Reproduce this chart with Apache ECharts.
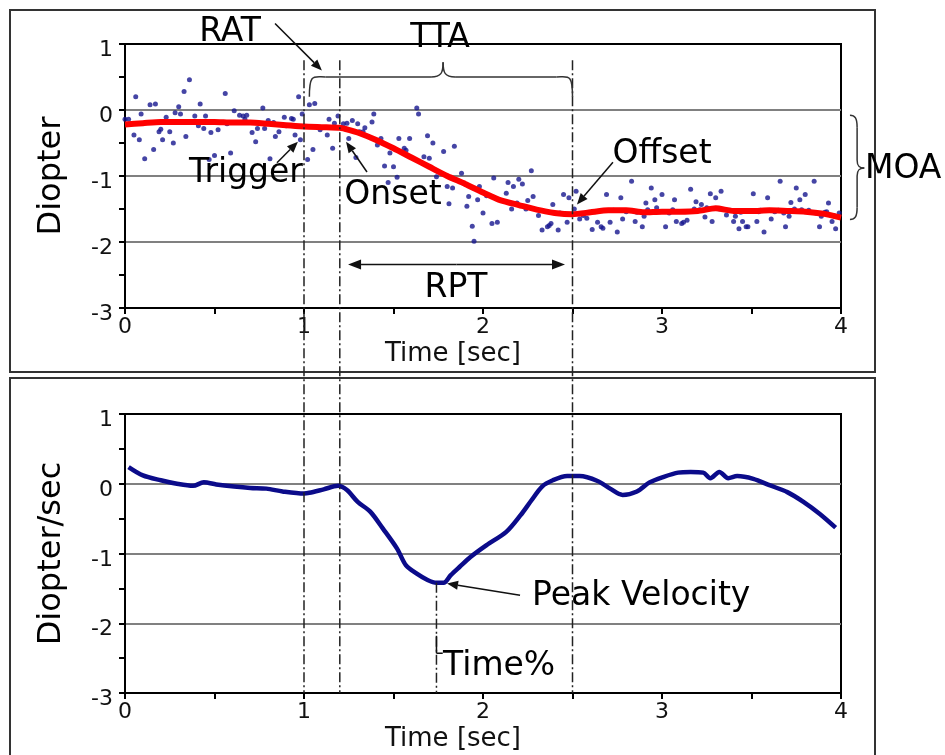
<!DOCTYPE html>
<html>
<head>
<meta charset="utf-8">
<script src="https://cdn.jsdelivr.net/npm/echarts@6/dist/echarts.min.js"></script>
<style>
html,body{margin:0;padding:0;background:#fff;}
#chart{width:945px;height:755px;}
</style>
</head>
<body>
<div id="chart"></div>
<script>
// ---------- DATA ----------
const xTickLabels = ['0', '1', '2', '3', '4'];
const yTickLabels = ['-3', '-2', '-1', '0', '1'];

// raw accommodation samples (top panel, blue dots)
const scatterTime = [
 0.00,0.02,0.06,0.05,0.08,0.09,0.11,0.14,0.16,0.17,0.19,0.20,0.21,0.23,0.25,0.27,0.28,0.30,0.31,0.33,
 0.34,0.36,0.39,0.41,0.42,0.44,0.45,0.47,0.48,0.50,0.52,0.53,0.56,0.57,0.59,0.61,0.64,0.66,0.67,0.68,
 0.71,0.73,0.74,0.77,0.78,0.80,0.81,0.83,0.84,0.86,0.89,0.90,0.93,0.94,0.95,0.97,0.98,
 0.99,1.02,1.03,1.05,1.06,1.09,1.13,1.14,1.16,1.17,1.19,1.22,1.24,1.25,1.27,1.29,1.30,1.31,1.33,1.34,
 1.38,1.39,1.41,1.43,1.45,1.47,1.48,1.50,1.52,1.53,1.56,1.57,1.59,1.63,1.64,1.67,1.69,1.70,1.72,1.74,
 1.78,1.80,1.81,1.83,1.84,1.88,1.89,1.91,1.92,1.94,1.95,1.97,1.98,
 2.00,2.02,2.05,2.06,2.08,2.13,2.14,2.16,2.17,2.19,2.20,2.22,2.24,2.25,2.27,2.28,2.31,2.33,2.36,2.37,
 2.38,2.39,2.42,2.43,2.45,2.47,2.48,2.51,2.52,2.54,2.56,2.58,2.61,2.64,2.66,2.67,2.69,2.71,2.73,2.75,
 2.77,2.78,2.80,2.83,2.85,2.86,2.89,2.90,2.91,2.92,2.94,2.96,2.97,3.00,3.02,3.04,
 3.06,3.07,3.08,3.11,3.12,3.14,3.16,3.18,3.19,3.21,3.22,3.24,3.25,3.27,3.28,3.30,3.32,3.33,3.36,3.38,
 3.40,3.41,3.43,3.44,3.45,3.47,3.48,3.51,3.53,3.54,3.55,3.57,3.59,3.61,3.63,3.65,3.66,3.68,3.69,3.71,
 3.72,3.74,3.75,3.77,3.78,3.80,3.82,3.85,3.86,3.88,3.89,3.91,3.92,3.93,3.95,3.96,3.97,3.99
];
const scatterDiopter = [
 -0.14,-0.14,0.20,-0.38,-0.45,-0.06,-0.74,0.08,-0.60,0.09,-0.33,-0.29,-0.45,-0.11,-0.33,-0.50,-0.04,0.05,-0.06,0.28,
 -0.40,0.46,-0.09,-0.24,0.09,-0.28,-0.09,-0.75,-0.34,-0.69,-0.30,-0.19,0.25,-0.21,-0.65,-0.01,-0.08,-0.09,-0.14,-0.08,
 -0.34,-0.48,-0.28,0.03,-0.28,-0.16,-0.74,-0.19,-0.40,-0.33,-0.11,-0.24,-0.13,-0.14,-0.38,0.20,-0.45,
 -0.06,-0.75,0.08,-0.60,0.10,-0.30,-0.38,-0.14,-0.58,-0.20,-0.09,-0.21,-0.20,-0.43,-0.16,-0.72,-0.21,-0.33,-0.33,-0.27,
 -0.18,-0.06,-0.53,-0.43,-0.85,-1.10,-0.65,-0.86,-1.02,-0.43,-0.58,-0.61,-0.43,0.03,-0.06,-0.71,-0.39,-0.73,-0.50,-1.01,
 -0.63,-1.16,-1.42,-1.18,-0.55,-0.96,-1.11,-1.46,-1.31,-1.76,-1.99,-1.36,-1.16,
 -1.56,-1.30,-1.72,-1.03,-1.70,-1.26,-1.10,-1.50,-1.16,-1.41,-1.05,-1.12,-1.50,-1.37,-0.92,-1.31,-1.60,-1.82,-1.77,-1.75,
 -1.72,-1.43,-1.82,-1.56,-1.28,-1.70,-1.33,-1.50,-1.23,-1.65,-1.60,-1.64,-1.81,-1.70,-1.77,-1.79,-1.28,-1.70,-1.52,-1.85,
 -1.33,-1.65,-1.54,-1.08,-1.69,-1.55,-1.77,-1.61,-1.41,-1.51,-1.18,-1.36,-1.48,-1.28,-1.77,-1.56,
 -1.51,-1.36,-1.69,-1.72,-1.70,-1.67,-1.20,-1.50,-1.39,-1.51,-1.43,-1.62,-1.48,-1.27,-1.69,-1.33,-1.50,-1.23,-1.59,-1.52,
 -1.69,-1.61,-1.80,-1.55,-1.69,-1.77,-1.77,-1.27,-1.69,-1.54,-1.52,-1.85,-1.33,-1.65,-1.54,-1.52,-1.08,-1.56,-1.77,-1.61,
 -1.40,-1.50,-1.18,-1.36,-1.51,-1.28,-1.52,-1.08,-1.56,-1.77,-1.61,-1.55,-1.54,-1.41,-1.69,-1.60,-1.80,-1.56
];

// smoothed accommodation (top panel, red line)
const fitTime = [0.0,0.1,0.2,0.3,0.4,0.5,0.6,0.7,0.8,0.9,1.0,1.1,1.2,1.25,1.3,1.4,1.5,1.6,1.7,1.8,1.9,2.0,
 2.1,2.2,2.3,2.4,2.5,2.6,2.7,2.8,2.9,3.0,3.1,3.2,3.3,3.4,3.5,3.6,3.7,3.8,3.9,4.0];
const fitDiopter = [-0.22,-0.20,-0.18,-0.18,-0.18,-0.18,-0.19,-0.19,-0.21,-0.23,-0.25,-0.26,-0.27,-0.30,-0.34,-0.45,
 -0.58,-0.72,-0.86,-1.00,-1.12,-1.25,-1.37,-1.44,-1.51,-1.56,-1.58,-1.55,-1.52,-1.52,-1.55,-1.54,-1.54,-1.53,
 -1.49,-1.53,-1.53,-1.52,-1.53,-1.54,-1.57,-1.63];

// velocity (bottom panel, blue line)
const velTime = [0.02,0.10,0.20,0.29,0.38,0.44,0.51,0.61,0.70,0.79,0.88,1.00,1.03,1.11,1.19,1.24,1.30,1.37,1.44,
 1.52,1.57,1.63,1.69,1.74,1.78,1.82,1.87,1.93,2.02,2.13,2.21,2.27,2.33,2.39,2.47,2.54,2.64,2.71,2.78,2.86,2.93,
 3.01,3.09,3.16,3.23,3.27,3.32,3.37,3.42,3.51,3.60,3.70,3.79,3.88,3.97];
const velValue = [0.24,0.12,0.05,0.00,-0.03,0.02,-0.01,-0.04,-0.06,-0.07,-0.11,-0.14,-0.13,-0.08,-0.03,-0.09,-0.26,
 -0.40,-0.64,-0.93,-1.17,-1.29,-1.38,-1.42,-1.42,-1.31,-1.19,-1.05,-0.88,-0.69,-0.45,-0.24,-0.04,0.05,0.11,0.11,
 0.04,-0.07,-0.16,-0.11,0.02,0.10,0.16,0.17,0.16,0.08,0.17,0.08,0.11,0.07,-0.02,-0.12,-0.26,-0.43,-0.63];

// event markers (sec)
const triggerTime = 1.0, onsetTime = 1.2, offsetTime = 2.5, peakTime = 1.74, peakValue = -1.42;

// ---------- CHART ----------
const FONT = 'DejaVu Sans';
const chart = echarts.init(document.getElementById('chart'), null, {renderer: 'canvas'});

function zip(a, b) { return a.map((v, i) => [v, b[i]]); }

function xAxisCfg(gi) {
  return {
    type: 'value', gridIndex: gi, min: 0, max: 4, interval: 1,
    axisLine: {show: true, onZero: false, lineStyle: {color: '#000', width: 2}},
    axisTick: {show: true, length: 6, lineStyle: {color: '#000', width: 2}},
    minorTick: {show: true, splitNumber: 2, length: 6, lineStyle: {color: '#000', width: 2}},
    axisLabel: {show: true, margin: 8, color: '#111', fontFamily: FONT, fontSize: 22,
      formatter: v => xTickLabels[Math.round(v)]},
    splitLine: {show: false},
    name: 'Time [sec]', nameLocation: 'middle', nameGap: 33,
    nameTextStyle: {fontFamily: FONT, fontSize: 26, color: '#111', padding: [0, 60, 0, 0]}
  };
}
function yAxisCfg(gi, name) {
  return {
    type: 'value', gridIndex: gi, min: -3, max: 1, interval: 1,
    axisLine: {show: true, onZero: false, lineStyle: {color: '#000', width: 2}},
    axisTick: {show: true, length: 6, lineStyle: {color: '#000', width: 2}},
    minorTick: {show: true, splitNumber: 2, length: 6, lineStyle: {color: '#000', width: 2}},
    axisLabel: {show: true, margin: 12, color: '#111', fontFamily: FONT, fontSize: 22,
      formatter: v => '{d|' + yTickLabels[Math.round(v) + 3] + '}',
      rich: {d: {fontFamily: FONT, fontSize: 22, color: '#111', padding: [13, 0, 0, 0]}}},
    splitLine: {show: true, showMinLine: false, showMaxLine: false,
      lineStyle: {color: '#808080', width: 2}},
    name: name, nameLocation: 'middle', nameGap: 57, nameRotate: 90,
    nameTextStyle: {fontFamily: FONT, fontSize: 32, color: '#000'}
  };
}

chart.setOption({
  animation: false,
  backgroundColor: '#fff',
  grid: [
    {left: 125, right: 104, top: 44, height: 264, show: true, borderColor: '#000', borderWidth: 2, backgroundColor: 'transparent'},
    {left: 125, right: 104, top: 414, height: 279, show: true, borderColor: '#000', borderWidth: 2, backgroundColor: 'transparent'}
  ],
  xAxis: [xAxisCfg(0), xAxisCfg(1)],
  yAxis: [yAxisCfg(0, 'Diopter'), yAxisCfg(1, 'Diopter/sec')],
  series: [
    {type: 'scatter', xAxisIndex: 0, yAxisIndex: 0, data: zip(scatterTime, scatterDiopter),
     symbol: 'circle', symbolSize: 5, itemStyle: {color: '#16168f'}, z: 3},
    {type: 'line', xAxisIndex: 0, yAxisIndex: 0, data: zip(fitTime, fitDiopter),
     showSymbol: false, smooth: 0.2, lineStyle: {color: '#ff0000', width: 6}, z: 4},
    {type: 'line', xAxisIndex: 1, yAxisIndex: 1, data: zip(velTime, velValue),
     showSymbol: false, smooth: 0.3, lineStyle: {color: '#0b0b8a', width: 4.5}, z: 4}
  ]
});

// ---------- ANNOTATIONS (positioned through the axes) ----------
function P(g, x, y) { return chart.convertToPixel({gridIndex: g}, [x, y]); }
const DASHDOT = [10, 3, 2, 3];
const els = [];
function line(p1, p2, opt) {
  opt = opt || {};
  els.push({type: 'line', z: 50, silent: true,
    shape: {x1: p1[0], y1: p1[1], x2: p2[0], y2: p2[1]},
    style: {stroke: opt.color || '#111', lineWidth: opt.width || 1.5, lineDash: opt.dash || null}});
}
function bez(p1, c1, c2, p2, w) {
  els.push({type: 'bezierCurve', z: 50, silent: true,
    shape: {x1: p1[0], y1: p1[1], cpx1: c1[0], cpy1: c1[1], cpx2: c2[0], cpy2: c2[1], x2: p2[0], y2: p2[1]},
    style: {stroke: '#333', lineWidth: w || 1.5, fill: null}});
}
function arrow(p1, p2, head, hw) {
  head = head || 11; hw = hw || 4.5;
  const dx = p2[0] - p1[0], dy = p2[1] - p1[1], L = Math.hypot(dx, dy), ux = dx / L, uy = dy / L;
  const bx = p2[0] - ux * head, by = p2[1] - uy * head;
  line(p1, [bx, by], {width: 1.5});
  els.push({type: 'polygon', z: 51, silent: true,
    shape: {points: [p2, [bx - uy * hw, by + ux * hw], [bx + uy * hw, by - ux * hw]]},
    style: {fill: '#111'}});
}
function text(p, str, align, size) {
  els.push({type: 'text', z: 60, silent: true, x: p[0], y: p[1],
    style: {text: str, fontFamily: FONT, fontSize: size || 33, fill: '#000',
      align: align || 'center', verticalAlign: 'middle'}});
}

// vertical dash-dot event lines spanning both panels
[triggerTime, onsetTime, offsetTime].forEach(t => {
  line(P(0, t, 0.755), P(1, t, -3), {dash: DASHDOT, width: 1.5, color: '#222'});
});
// peak-time dash-dot line
line(P(1, peakTime, peakValue), P(1, peakTime, -3), {dash: DASHDOT, width: 1.5, color: '#222'});
// Time% small bracket
line(P(1, peakTime, -2.18), P(1, peakTime, -2.43), {width: 1.5});
line(P(1, peakTime, -2.43), P(1, 1.775, -2.43), {width: 1.5});

// TTA brace
(function () {
  const L = P(0, 1.03, 0.20), R = P(0, offsetTime, 0.20);
  const yH = P(0, 1.5, 0.50)[1], tip = P(0, 1.777, 0.725);
  const r = 16;
  bez(L, [L[0], yH - 4], [L[0] + 4, yH], [L[0] + r, yH]);
  line([L[0] + r, yH], [tip[0] - 12, yH], {width: 1.5, color: '#333'});
  bez([tip[0] - 12, yH], [tip[0] - 2, yH], [tip[0], yH - 4], tip);
  bez(tip, [tip[0], yH - 4], [tip[0] + 2, yH], [tip[0] + 12, yH]);
  line([tip[0] + 12, yH], [R[0] - r, yH], {width: 1.5, color: '#333'});
  bez([R[0] - r, yH], [R[0] - 4, yH], [R[0], yH - 4], R);
})();

// MOA brace
(function () {
  const T = P(0, 4.05, -0.08), B = P(0, 4.05, -1.66), sx = P(0, 4.09, 0)[0];
  const tip = P(0, 4.13, -0.88);
  bez(T, [sx - 2, T[1]], [sx, T[1] + 3], [sx, T[1] + 12]);
  line([sx, T[1] + 12], [sx, tip[1] - 8], {width: 1.5, color: '#333'});
  bez([sx, tip[1] - 8], [sx, tip[1] - 2], [sx + 2, tip[1]], tip);
  bez(tip, [sx + 2, tip[1]], [sx, tip[1] + 2], [sx, tip[1] + 8]);
  line([sx, tip[1] + 8], [sx, B[1] - 12], {width: 1.5, color: '#333'});
  bez([sx, B[1] - 12], [sx, B[1] - 3], [sx - 2, B[1]], B);
})();

// arrows
arrow(P(0, 0.838, 1.31), P(0, 1.10, 0.60));        // RAT
arrow(P(0, 0.849, -0.80), P(0, 0.966, -0.48));     // Trigger
arrow(P(0, 1.352, -0.94), P(0, 1.235, -0.48));     // Onset
arrow(P(0, 2.726, -0.79), P(0, 2.525, -1.43));     // Offset
arrow(P(1, 2.207, -1.60), P(1, 1.799, -1.43));     // Peak Velocity
// RPT double arrow
(function () {
  const a = P(0, 1.246, -2.34), b = P(0, 2.458, -2.34);
  const mid = [(a[0] + b[0]) / 2, a[1]];
  arrow(mid, a, 13, 5);
  arrow(mid, b, 13, 5);
})();

// labels
text(P(0, 0.587, 1.17), 'RAT');
text(P(0, 1.76, 1.08), 'TTA');
text(P(0, 0.676, -0.96), 'Trigger');
text(P(0, 1.497, -1.29), 'Onset');
text(P(0, 3.0, -0.67), 'Offset');
text(P(0, 1.849, -2.70), 'RPT');
text(P(0, 4.134, -0.906), 'MOA', 'left');
text(P(1, 2.274, -1.62), 'Peak Velocity', 'left');
text(P(1, 1.777, -2.62), 'Time%', 'left');

// panel frames
els.push({type: 'rect', z: 1, silent: true, shape: {x: 10, y: 10, width: 865, height: 362},
  style: {fill: null, stroke: '#333', lineWidth: 2}});
els.push({type: 'rect', z: 1, silent: true, shape: {x: 10, y: 378, width: 865, height: 400},
  style: {fill: null, stroke: '#333', lineWidth: 2}});

chart.setOption({graphic: {elements: els}});
</script>
</body>
</html>
